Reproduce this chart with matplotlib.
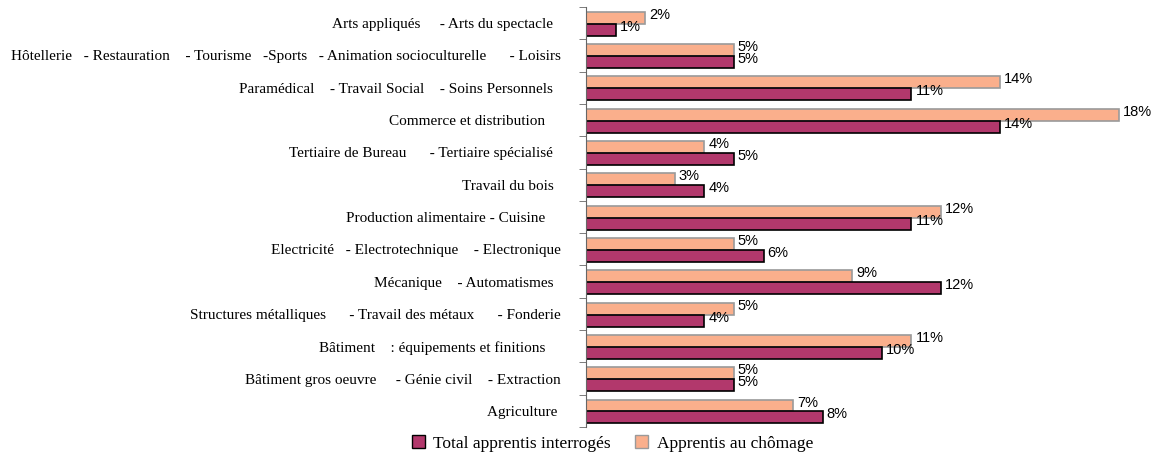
import matplotlib.pyplot as plt
from matplotlib.patches import Patch

# categories from bottom to top
categories = [
    "Agriculture ",
    "Bâtiment gros oeuvre     - Génie civil    - Extraction",
    "Bâtiment    : équipements et finitions    ",
    "Structures métalliques      - Travail des métaux      - Fonderie",
    "Mécanique    - Automatismes  ",
    "Electricité   - Electrotechnique    - Electronique",
    "Production alimentaire - Cuisine    ",
    "Travail du bois  ",
    "Tertiaire de Bureau      - Tertiaire spécialisé  ",
    "Commerce et distribution    ",
    "Paramédical    - Travail Social    - Soins Personnels  ",
    "Hôtellerie   - Restauration    - Tourisme   -Sports   - Animation socioculturelle      - Loisirs",
    "Arts appliqués     - Arts du spectacle  ",
]
total_apprentis = [8, 5, 10, 4, 12, 6, 11, 4, 5, 14, 11, 5, 1]
apprentis_chomage = [7, 5, 11, 5, 9, 5, 12, 3, 4, 18, 14, 5, 2]

dark = "#B2386C"
salmon = "#FAAF8C"

fig = plt.figure(figsize=(11.6, 4.55), dpi=100)
ax = fig.add_axes([586 / 1160, 28 / 455, 568 / 1160, 420 / 455])

pos = list(range(len(categories)))
h = 0.37
ax.barh([p + 0.165 for p in pos], apprentis_chomage, height=h, color=salmon,
        edgecolor="#9A9A9A", linewidth=1.2)
ax.barh([p - 0.205 for p in pos], total_apprentis, height=h, color=dark,
        edgecolor="black", linewidth=1.2)

for p, v in zip(pos, apprentis_chomage):
    ax.annotate(f"{v}%", (v, p + 0.165), xytext=(4, 3), textcoords="offset pixels",
                va="center", ha="left", fontsize=10.5, family="Liberation Sans")
for p, v in zip(pos, total_apprentis):
    ax.annotate(f"{v}%", (v, p - 0.205), xytext=(4, 3), textcoords="offset pixels",
                va="center", ha="left", fontsize=10.5, family="Liberation Sans")

ax.set_xlim(0, 19.2)
ax.set_ylim(-0.5, len(categories) - 0.5)
ax.set_yticks(pos)
ax.set_yticklabels(categories, family="Liberation Serif", fontsize=11)
ax.set_yticks([p - 0.5 for p in pos] + [len(categories) - 0.5], minor=True)
ax.tick_params(axis="y", which="major", length=0, pad=18)
ax.tick_params(axis="y", which="minor", length=5, color="#666666")
ax.set_xticks([])
for s in ["top", "right", "bottom"]:
    ax.spines[s].set_visible(False)
ax.spines["left"].set_color("#666666")

handles = [Patch(facecolor=dark, edgecolor="black", label="Total apprentis interrogés"),
           Patch(facecolor=salmon, edgecolor="#9A9A9A", label="Apprentis au chômage")]
fig.legend(handles=handles, loc="center", bbox_to_anchor=(0.528, 0.025), ncol=2,
           frameon=False, handlelength=0.75, handleheight=0.75, handletextpad=0.5,
           columnspacing=1.4, prop={"family": "Liberation Serif", "size": 12.5})

fig.savefig("out.png", dpi=100)
